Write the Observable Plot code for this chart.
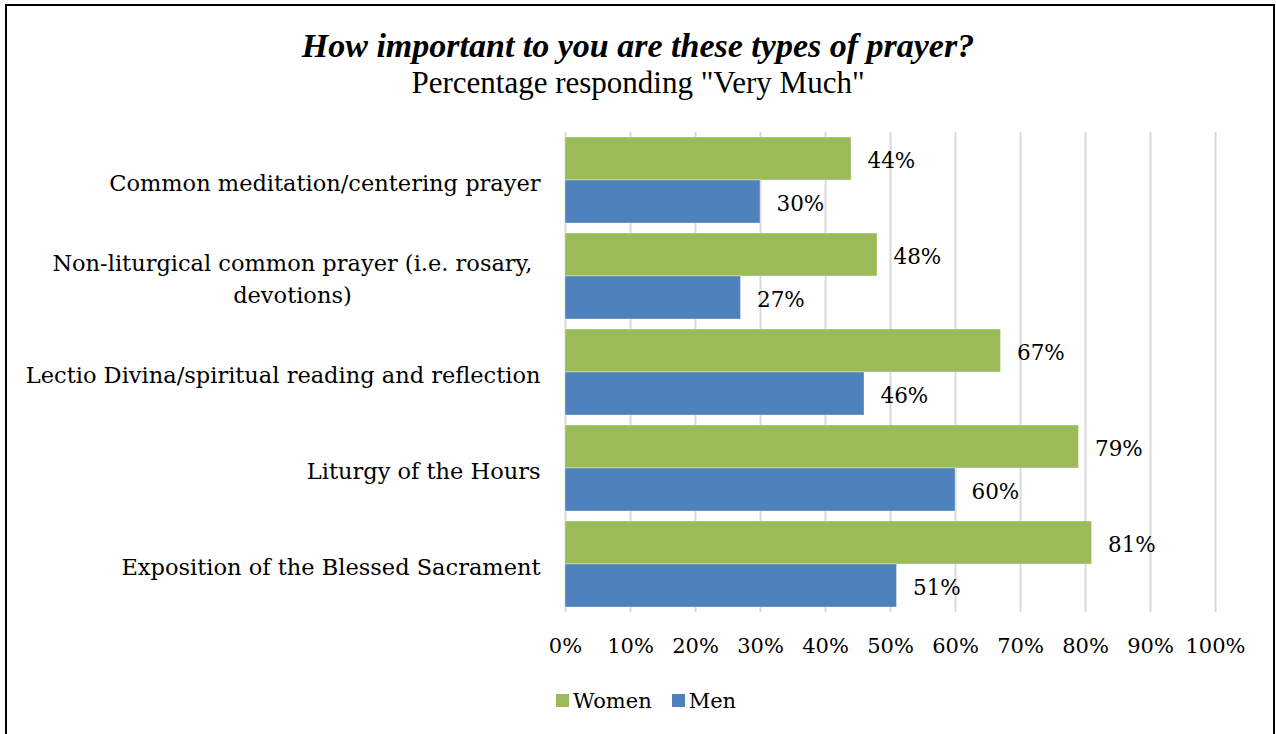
<!DOCTYPE html>
<html>
<head>
<meta charset="utf-8">
<script src="https://cdn.jsdelivr.net/npm/d3@7"></script>
<script src="https://cdn.jsdelivr.net/npm/@observablehq/plot@0.6"></script>
<style>
  html, body { margin: 0; padding: 0; background: #fff; overflow: hidden; width: 1276px; height: 734px; }
  #frame { position: absolute; left: 5px; top: 4px; width: 1270px; height: 800px; border: 2px solid #000; box-sizing: border-box; }
  .t { position: absolute; left: 0; width: 1276px; text-align: center; font-family: "Liberation Serif", serif; color: #000; white-space: nowrap; }
  #title { top: 27px; font-size: 34px; line-height: 38px; font-weight: bold; font-style: italic; }
  #subtitle { top: 66px; font-size: 31px; line-height: 34px; }
  #chart { position: absolute; left: 0; top: 120px; }
  #legend { position: absolute; left: 556px; top: 684px; }
  .lg-swatch { margin-right: 20px !important; }
  .lg-swatch > svg { margin-right: 4px !important; }
</style>
</head>
<body>
<div id="frame"></div>
<div class="t" id="title">How important to you are these types of prayer?</div>
<div class="t" id="subtitle">Percentage responding "Very Much"</div>
<div id="chart"></div>
<div id="legend"></div>
<script>
const categories = [
  "Common meditation/centering prayer",
  "Non-liturgical common prayer (i.e. rosary,\ndevotions)",
  "Lectio Divina/spiritual reading and reflection",
  "Liturgy of the Hours",
  "Exposition of the Blessed Sacrament"
];
const seriesNames = ["Women", "Men"];
const women = [44, 48, 67, 79, 81];
const men = [30, 27, 46, 60, 51];
const xTicks = [0, 10, 20, 30, 40, 50, 60, 70, 80, 90, 100];
const colors = ["#9bbb59", "#4f81bd"];

const rows = [];
categories.forEach((c, i) => {
  rows.push({category: c, series: "Women", value: women[i]});
  rows.push({category: c, series: "Men", value: men[i]});
});

const FONT = "DejaVu Serif";
const FS = 21;
const FS_CAT = 22.5;

const plot = Plot.plot({
  width: 1276,
  height: 540,
  marginLeft: 565,
  marginRight: 61,
  marginTop: 11,
  marginBottom: 46,
  style: {fontFamily: FONT, fontSize: FS + "px", color: "#000", background: "transparent"},
  x: {domain: [0, 100], axis: null},
  y: {domain: seriesNames, axis: null, paddingInner: 0, paddingOuter: 0},
  fy: {domain: categories, axis: null, paddingInner: 0.1, paddingOuter: 0.05},
  color: {domain: seriesNames, range: colors},
  marks: [
    Plot.ruleX(xTicks, {x: d => d, stroke: "#d9d9d9", strokeWidth: 2, insetTop: -5, insetBottom: -5}),
    Plot.barX(rows, {fy: "category", y: "series", x: "value", fill: "series", stroke: "#ffffff", strokeOpacity: 0.35, strokeWidth: 1}),
    Plot.text(rows, {fy: "category", y: "series", x: "value", text: d => d.value + "%", textAnchor: "start", dx: 16, dy: 2, fill: "#000", fontSize: 21.5}),
    Plot.axisFy({anchor: "left", tickSize: 0, tickPadding: 25, fontSize: FS_CAT, label: null, lineWidth: 100, lineHeight: 1.42}),
    Plot.axisX({ticks: xTicks, tickFormat: d => d + "%", tickSize: 0, tickPadding: 31, fontSize: FS, label: null})
  ]
});
document.getElementById("chart").appendChild(plot);

// center the lines of multi-line category labels (as in the original)
d3.select(plot).selectAll("text").each(function() {
  const tspans = this.querySelectorAll("tspan");
  if (tspans.length > 1) {
    const L = tspans[0].getComputedTextLength();
    this.setAttribute("text-anchor", "middle");
    tspans.forEach(t => t.setAttribute("x", -L / 2 - 8));
  }
});

const legend = Plot.legend({
  color: {domain: seriesNames, range: colors},
  legend: "swatches",
  swatchSize: 13,
  className: "lg",
  style: {fontFamily: FONT, fontSize: FS + "px", color: "#000"}
});
document.getElementById("legend").appendChild(legend);
</script>
</body>
</html>
